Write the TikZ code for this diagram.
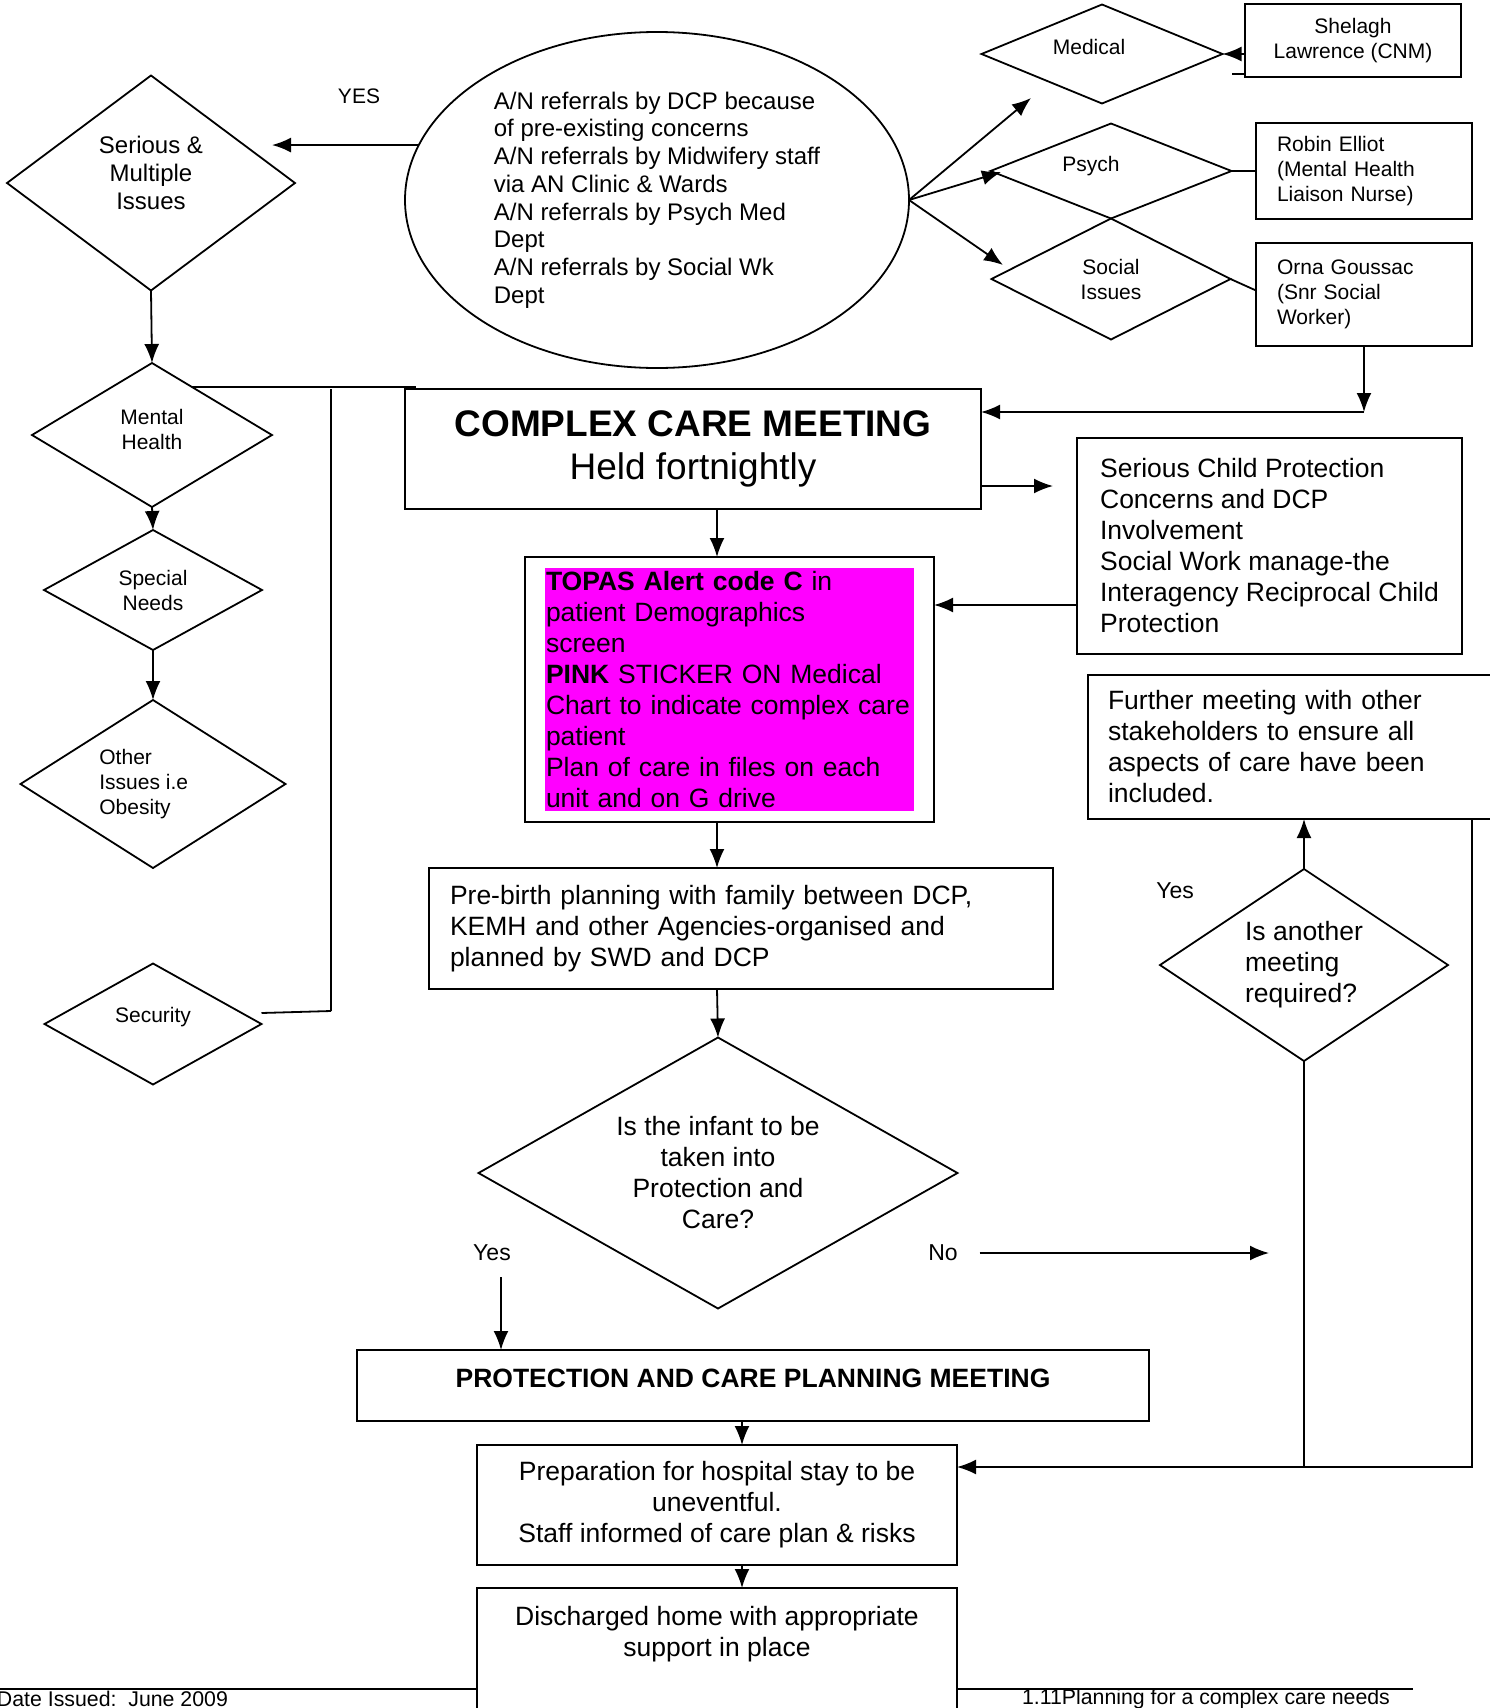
\documentclass[tikz,border=0pt]{standalone}
\usepackage{fontspec}
\setmainfont{Liberation Sans}
\usetikzlibrary{shapes.geometric, arrows.meta, calc}
\definecolor{stickerpink}{HTML}{FF00FF}
\newcommand{\ftS}{\fontsize{21pt}{25pt}\selectfont}
\newcommand{\ftM}{\fontsize{24pt}{27.7pt}\selectfont}
\newcommand{\ftL}{\fontsize{26.5pt}{31pt}\selectfont}
\newcommand{\ftXL}{\fontsize{37pt}{43pt}\selectfont}
\newcommand{\ftYes}{\fontsize{23pt}{27pt}\selectfont}
\newcommand{\ftFoot}{\fontsize{21.3pt}{25pt}\selectfont}

\begin{document}
\begin{tikzpicture}[x=1pt, y=-1pt, line width=1.8pt, inner sep=0, outer sep=0,
  >={Latex[length=19pt, width=15pt]},
  carebox/.style={rectangle, draw, fill=white, anchor=north west},
  issue/.style={diamond, draw, aspect=1.5, align=center}]
  \useasboundingbox (0,0) rectangle (1490,1708);

  % referrals and the left hand issues
  \node[ellipse, draw, minimum width=504pt, minimum height=336pt,
    align=left, font=\ftM] (referrals) at (657,200)
    {A/N referrals by DCP because\\of pre-existing concerns\\A/N referrals by Midwifery staff\\via AN Clinic \& Wards\\A/N referrals by Psych Med\\Dept\\A/N referrals by Social Wk\\Dept};
  \node[font=\ftS] (yestop) at (359,96) {YES};

  \node[issue, minimum width=288pt, minimum height=215pt, text depth=20pt, font=\ftM] (serious) at (151,183) {Serious \&\\Multiple\\Issues};
  \node[issue, minimum width=240pt, minimum height=144pt, text depth=12pt, font=\ftS] (mental) at (152,435) {Mental\\Health};
  \node[issue, minimum width=218pt, minimum height=120pt, font=\ftS] (special) at (153,590) {Special\\Needs};
  \node[issue, align=left, minimum width=265pt, minimum height=168pt, font=\ftS] (other) at (153,784) {Other\\Issues i.e\\Obesity\hspace*{36pt}};
  \node[issue, minimum width=217pt, minimum height=121pt, text depth=18pt, font=\ftS] (security) at (153,1024) {Security};

  % contacts on the right
  \node[issue, minimum width=241pt, minimum height=99pt, text depth=14pt, font=\ftS] (medical) at (1102,54) {Medical\hspace*{26pt}};
  \node[issue, minimum width=241pt, minimum height=95pt, text depth=14pt, font=\ftS] (psych) at (1111,171) {Psych\hspace*{40pt}};
  \node[issue, minimum width=239pt, minimum height=121pt, font=\ftS] (social) at (1111,279) {Social\\Issues};
  \node[carebox, minimum width=216pt, minimum height=73pt, align=center, font=\ftS] (shelagh) at (1245,4) {Shelagh\\Lawrence (CNM)};
  \node[carebox, minimum width=216pt, minimum height=96pt, inner xsep=21pt, text width=174pt,
    align=left, font=\ftS] (robin) at (1256,123) {Robin Elliot\\(Mental Health\\Liaison Nurse)};
  \node[carebox, minimum width=216pt, minimum height=103pt, inner xsep=21pt, text width=174pt,
    align=left, font=\ftS] (orna) at (1256,243) {Orna Goussac\\(Snr Social\\Worker)};

  % main column
  \node[carebox, minimum width=576pt, minimum height=120pt, align=center, font=\ftXL] (ccm) at (405,389)
    {{\bfseries COMPLEX CARE MEETING}\\Held fortnightly};
  \node[carebox, minimum width=385pt, minimum height=216pt, align=left, font=\ftL] (scp) at (1077,438)
    {Serious Child Protection\\Concerns and DCP\\Involvement\\Social Work manage-the\\Interagency Reciprocal Child\\Protection};
  \node[carebox, minimum width=409pt, minimum height=265pt] (topasframe) at (525,557) {};
  \node[rectangle, fill=stickerpink, anchor=north west, minimum width=369pt, minimum height=243pt,
    inner xsep=1pt, text width=367pt, align=left, font=\ftL] (topas) at (545,568)
    {\textbf{TOPAS Alert code C} in\\patient Demographics\\screen\\\textbf{PINK} STICKER ON Medical\\Chart to indicate complex care\\patient\\Plan of care in files on each\\unit and on G drive};
  \node[carebox, minimum width=440pt, minimum height=144pt, inner xsep=20pt, text width=400pt,
    align=left, font=\ftL] (further) at (1088,675)
    {Further meeting with other\\stakeholders to ensure all\\aspects of care have been\\included.};
  \node[carebox, minimum width=624pt, minimum height=121pt, inner xsep=21pt, text width=582pt,
    align=left, font=\ftL] (prebirth) at (429,868)
    {Pre-birth planning with family between DCP,\\KEMH and other Agencies-organised and\\planned by SWD and DCP};
  \node[issue, minimum width=479pt, minimum height=271pt, font=\ftL] (infant) at (718,1173)
    {Is the infant to be\\taken into\\Protection and\\Care?};
  \node[issue, align=left, minimum width=288pt, minimum height=192pt, font=\ftL] (another) at (1304,965)
    {Is another\\meeting\\required?};
  \node[font=\ftYes] (yesinf) at (492,1253) {Yes};
  \node[font=\ftYes] (noinf) at (943,1253) {No};
  \node[font=\ftYes] (yesmore) at (1175,891) {Yes};
  \node[carebox, minimum width=792pt, minimum height=71pt, text height=19pt, text depth=16pt,
    font=\ftL\bfseries] (pcpm) at (357,1350) {PROTECTION AND CARE PLANNING MEETING};
  \node[carebox, minimum width=480pt, minimum height=120pt, align=center, font=\ftL] (prep) at (477,1445)
    {Preparation for hospital stay to be\\uneventful.\\Staff informed of care plan \& risks};
  \node[carebox, minimum width=480pt, inner ysep=18pt, text depth=120pt, align=center, font=\ftL] (discharged) at (477,1588)
    {Discharged home with appropriate\\support in place};

  % page footer
  \node[font=\ftFoot, anchor=west] (issued) at (-3,1699) {Date Issued:\ \ June 2009};
  \node[font=\ftFoot] (section) at (1206,1699) {1.11Planning for a complex care needs};
  \coordinate (footl) at (0,1689);
  \coordinate (footr) at (1413,1689);
  \draw[line width=2.6pt] (footl) -- (footl -| discharged.west);
  \draw[line width=2.6pt] (discharged.east |- footr) -- (footr);

  % connectors, left side
  \coordinate (yesend) at (272,146);
  \draw[->] (referrals.167.8) -- (referrals.167.8 -| yesend);
  \draw[->] (serious.south) -- (mental.north);
  \draw[->] (mental.south) -- (special.north);
  \draw[->] (special.south) -- (other.north);
  \coordinate (mhtap) at ($(mental.north)!0.33!(mental.east)$);
  \draw (mhtap) -- ([xshift=11pt]mhtap -| ccm.west);
  \coordinate (busn) at (331,389);
  \coordinate (buss) at (331,1011);
  \draw (busn) -- (buss);
  \draw ([yshift=11pt]security.east) -- (buss);

  % connectors, top right
  \coordinate (medtip) at (1031,98);
  \coordinate (psychtip) at (1001,172);
  \coordinate (socialtip) at (1003,265);
  \draw[->] (referrals.east) -- (medtip);
  \draw[->] (referrals.east) -- (psychtip);
  \draw[->] (referrals.east) -- (socialtip);
  \draw[->] (shelagh.west |- medical.east) -- (medical.east);
  \draw ([xshift=-13pt, yshift=3pt]shelagh.south west) -- ([yshift=3pt]shelagh.south west);
  \draw (psych.east) -- (robin.west |- psych.east);
  \draw (social.east) -- ([yshift=4pt]orna.west);
  \coordinate (ornadrop) at (1364,412);
  \draw[->] (orna.south) -- (ornadrop);
  \draw[->] (ornadrop) -- (ornadrop -| ccm.east);

  % connectors, main column
  \coordinate (stem) at (717,0);
  \coordinate (drop) at (742,0);
  \coordinate (scpgap) at (1053,486);
  \draw[->] (ccm.east |- scpgap) -- (scpgap);
  \draw[->] ($(scp.west)+(0,59)$) coordinate (scpout) -- (scpout -| topasframe.east);
  \draw[->] (ccm.south -| stem) -- (topasframe.north -| stem);
  \draw[->] (topasframe.south -| stem) -- (prebirth.north -| stem);
  \draw[->] (prebirth.south -| stem) -- (infant.north);
  \coordinate (noend) at (1269,1253);
  \draw[->] ([xshift=22pt]noinf.east) -- (noinf.east -| noend);
  \coordinate (yesfoot) at (501,1277);
  \draw[->] (yesfoot) -- (yesfoot |- pcpm.north);
  \draw[->] (pcpm.south -| drop) -- (prep.north -| drop);
  \draw[->] (prep.south -| drop) -- (discharged.north -| drop);

  % loop back from the further meeting
  \coordinate (loopcorner) at (1472,1467);
  \draw[->] (another.north) -- (another.north |- further.south);
  \draw (another.south) -- (another.south |- loopcorner);
  \draw[->] (further.south -| loopcorner) -- (loopcorner) -- (loopcorner -| prep.east);
\end{tikzpicture}
\end{document}
